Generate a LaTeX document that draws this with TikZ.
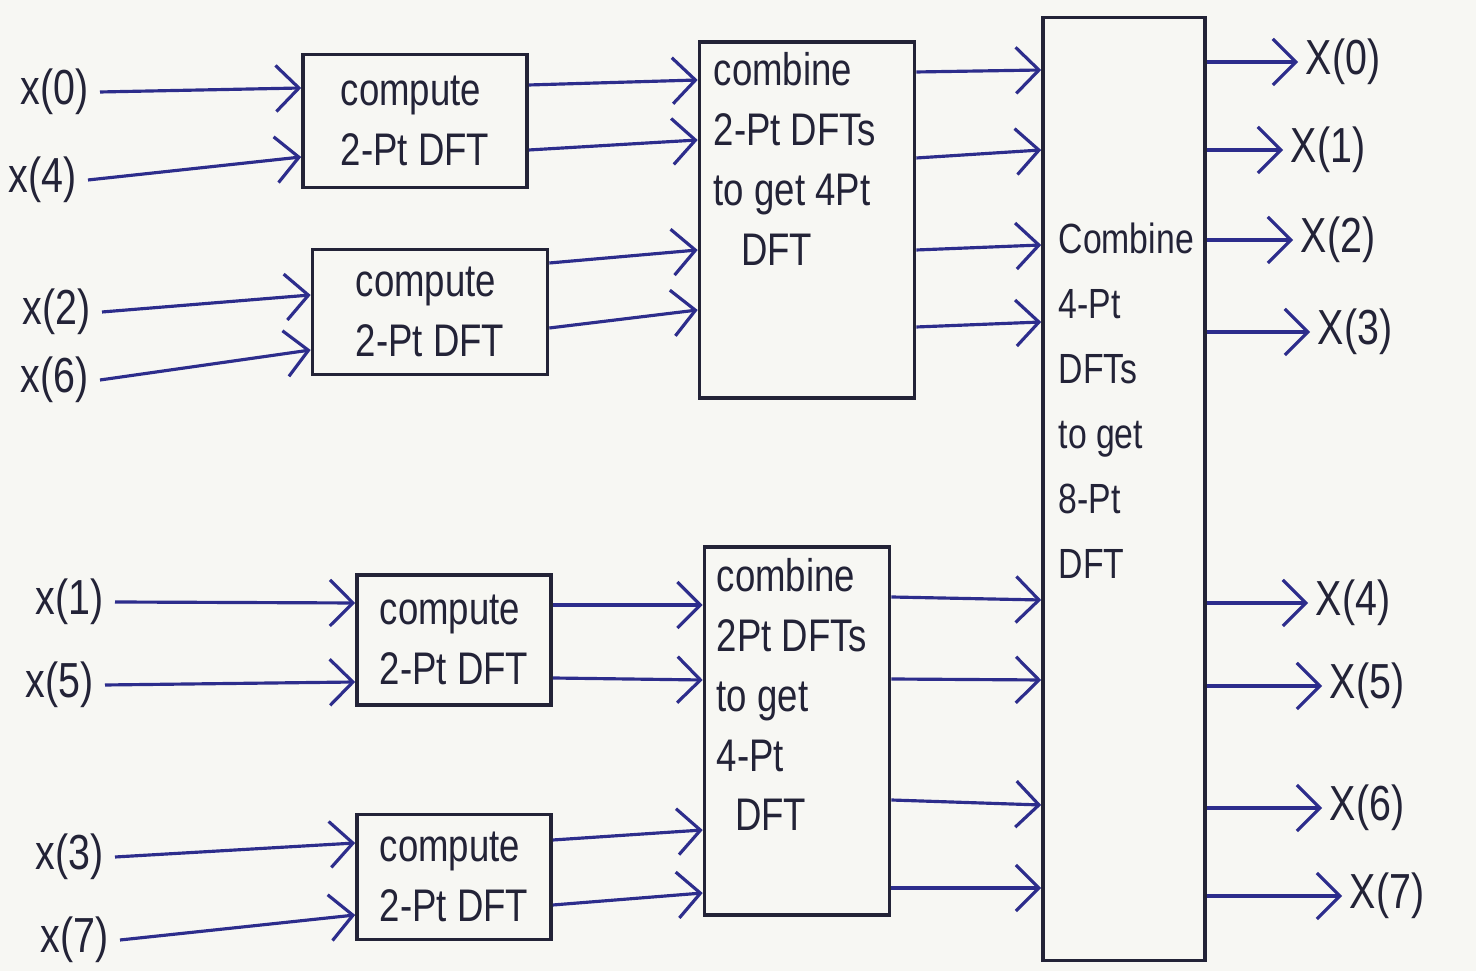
\documentclass[tikz,border=0pt]{standalone}
\usepackage{fontspec}
\setmainfont{Liberation Sans}[FakeStretch=0.8]
\usepackage{tikz}
\usetikzlibrary{arrows.meta}
\definecolor{ink}{RGB}{45,45,140}
\definecolor{pencil}{RGB}{35,35,55}
\definecolor{paper}{RGB}{247,247,243}

\begin{document}
\begin{tikzpicture}[x=0.01cm,y=-0.01cm,
  box/.style={draw=pencil,line width=1pt,inner sep=0pt},
  lbl/.style={text=pencil,font=\fontsize{13}{17}\selectfont,align=left,inner sep=0pt},
  inp/.style={lbl,font=\fontsize{14}{17}\selectfont,inner sep=3pt},
  arr/.style={ink,line width=0.9pt,-{Straight Barb[length=2.3mm,width=4.6mm]}}]
  \fill[paper] (0,0) rectangle (1476,971);
  \useasboundingbox (0,0) rectangle (1476,971);

  % inputs, bit reversed
  \node[inp,anchor=east] (x0) at (100,92) {x(0)};
  \node[inp,anchor=east] (x4) at (88,180) {x(4)};
  \node[inp,anchor=east] (x2) at (102,312) {x(2)};
  \node[inp,anchor=east] (x6) at (100,380) {x(6)};
  \node[inp,anchor=east] (x1) at (115,602) {x(1)};
  \node[inp,anchor=east] (x5) at (105,685) {x(5)};
  \node[inp,anchor=east] (x3) at (115,857) {x(3)};
  \node[inp,anchor=east] (x7) at (120,940) {x(7)};

  % 2-pt stages
  \node[box,lbl,minimum width=2.24cm,minimum height=1.33cm] (A) at (415,121) {compute\\2-Pt DFT};
  \node[box,lbl,minimum width=2.35cm,minimum height=1.25cm] (B) at (430,312) {compute\\2-Pt DFT};
  \node[box,lbl,minimum width=1.94cm,minimum height=1.30cm] (C) at (454,640) {compute\\2-Pt DFT};
  \node[box,lbl,minimum width=1.94cm,minimum height=1.25cm] (D) at (454,877) {compute\\2-Pt DFT};

  % 4-pt and 8-pt stages
  \node[box,minimum width=2.15cm,minimum height=3.56cm] (E) at (807,220) {};
  \node[box,minimum width=1.85cm,minimum height=3.68cm] (F) at (797,731) {};
  \node[box,minimum width=1.62cm,minimum height=9.42cm] (G) at (1124,489) {};
  \node[lbl,anchor=north west] (tE) at (713,52) {combine\\2-Pt DFTs\\to get 4Pt\\\hspace*{0.6em}DFT};
  \node[lbl,anchor=north west] (tF) at (716,558) {combine\\2Pt DFTs\\to get\\4-Pt\\\hspace*{0.4em}DFT};
  \node[lbl,anchor=north west,font=\fontsize{12}{18.5}\selectfont] (tG) at (1058,222) {Combine\\4-Pt\\DFTs\\to get\\8-Pt\\DFT};

  % outputs
  \node[inp,anchor=west,inner sep=2pt] (X0) at (1298,62) {X(0)};
  \node[inp,anchor=west,inner sep=2pt] (X1) at (1283,150) {X(1)};
  \node[inp,anchor=west,inner sep=2pt] (X2) at (1293,240) {X(2)};
  \node[inp,anchor=west,inner sep=2pt] (X3) at (1310,332) {X(3)};
  \node[inp,anchor=west,inner sep=2pt] (X4) at (1308,603) {X(4)};
  \node[inp,anchor=west,inner sep=2pt] (X5) at (1322,686) {X(5)};
  \node[inp,anchor=west,inner sep=2pt] (X6) at (1322,808) {X(6)};
  \node[inp,anchor=west,inner sep=2pt] (X7) at (1342,896) {X(7)};

  % into the 2-pt boxes
  \draw[arr] (x0.east) -- (A.west |- 0,88);
  \draw[arr] (x4.east) -- (A.west |- 0,157);
  \draw[arr] (x2.east) -- (B.west |- 0,295);
  \draw[arr] (x6.east) -- (B.west |- 0,350);
  \draw[arr] (x1.east) -- (C.west |- 0,603);
  \draw[arr] (x5.east) -- (C.west |- 0,682);
  \draw[arr] (x3.east) -- (D.west |- 0,843);
  \draw[arr] (x7.east) -- (D.west |- 0,915);

  % 2-pt to 4-pt
  \draw[arr] (A.east |- 0,85) -- (E.west |- 0,80);
  \draw[arr] (A.east |- 0,150) -- (E.west |- 0,140);
  \draw[arr] (B.east |- 0,263) -- (E.west |- 0,250);
  \draw[arr] (B.east |- 0,328) -- (E.west |- 0,310);
  \draw[arr] (C.east |- 0,605) -- (F.west |- 0,605);
  \draw[arr] (C.east |- 0,678) -- (F.west |- 0,680);
  \draw[arr] (D.east |- 0,840) -- (F.west |- 0,830);
  \draw[arr] (D.east |- 0,905) -- (F.west |- 0,893);

  % 4-pt to 8-pt
  \draw[arr] (E.east |- 0,72) -- (G.west |- 0,70);
  \draw[arr] (E.east |- 0,158) -- (G.west |- 0,150);
  \draw[arr] (E.east |- 0,250) -- (G.west |- 0,245);
  \draw[arr] (E.east |- 0,327) -- (G.west |- 0,322);
  \draw[arr] (F.east |- 0,597) -- (G.west |- 0,600);
  \draw[arr] (F.east |- 0,679) -- (G.west |- 0,680);
  \draw[arr] (F.east |- 0,800) -- (G.west |- 0,805);
  \draw[arr] (F.east |- 0,888) -- (G.west |- 0,888);

  % 8-pt outputs
  \draw[arr] (G.east |- X0) -- (X0.west);
  \draw[arr] (G.east |- X1) -- (X1.west);
  \draw[arr] (G.east |- X2) -- (X2.west);
  \draw[arr] (G.east |- X3) -- (X3.west);
  \draw[arr] (G.east |- X4) -- (X4.west);
  \draw[arr] (G.east |- X5) -- (X5.west);
  \draw[arr] (G.east |- X6) -- (X6.west);
  \draw[arr] (G.east |- X7) -- (X7.west);
\end{tikzpicture}
\end{document}
